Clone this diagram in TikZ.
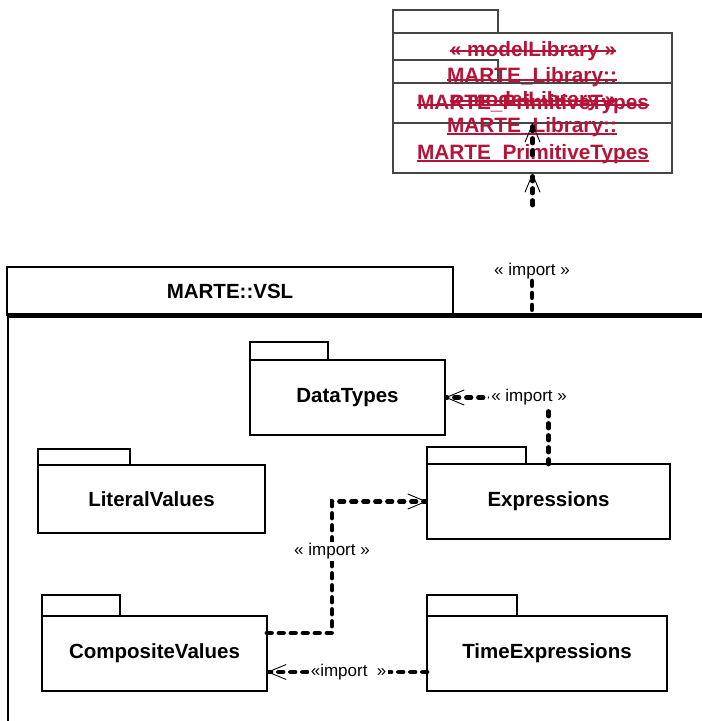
\documentclass[tikz,border=0pt]{standalone}
\usepackage{fontspec}
\setmainfont{Liberation Sans}
\usetikzlibrary{arrows.meta}
\definecolor{cLib} {RGB}{180, 20, 55}
\definecolor{cLine}{RGB}{70, 70, 70}
\tikzset{
  pkgBody/.style = {draw, line width=1.6pt, inner sep=0pt, outer sep=0pt,
                    font=\fontsize{20.5}{24}\selectfont\bfseries},
  pkgTab/.style  = {draw, line width=1.6pt, inner sep=0pt, outer sep=0pt,
                    anchor=south west},
  libBody/.style = {draw=cLine, line width=1.1pt, inner sep=0pt, outer sep=0pt,
                    minimum width=279pt, minimum height=90pt},
  libTab/.style  = {draw=cLine, line width=1.1pt, inner sep=0pt, outer sep=0pt,
                    anchor=south west, minimum width=105pt, minimum height=23pt},
  libTxt/.style  = {inner sep=0pt, text=cLib, font=\fontsize{20.8}{24}\selectfont\bfseries},
  libRule/.style = {cLib, line width=1.8pt},
  lbl/.style     = {fill=white, inner sep=2pt, font=\fontsize{17}{20}\selectfont},
  dep/.style     = {line width=4.8pt, dash pattern=on 4.5pt off 7.5pt, line cap=round},
  imp/.style     = {dep, -{Straight Barb[length=18pt, width=15pt, line width=0.9pt]}},
}

\begin{document}
\begin{tikzpicture}[x=1pt, y=-1pt]
\clip (0,0) rectangle (702,721);

%% ─── library package (drawn twice) ──────────────────────────
\node[libBody] (PTA) at (532.5,78) {};
\node[libTab]  (PTAtab) at (PTA.north west) {};
\node[libBody] (PTB) at (532.5,128) {};
\node[libTab]  (PTBtab) at (PTB.north west) {};

\node[libTxt] (stA)  at (533,51)  {« modelLibrary »};
\node[libTxt] (nmA1) at (532,77)  {MARTE\_Library::};
\node[libTxt] (nmA2) at (533,104) {MARTE\_PrimitiveTypes};
\draw[libRule] (stA.west) -- (stA.east);
\draw[libRule] ([yshift=2pt]nmA1.base west) -- ([yshift=2pt]nmA1.base east);
\draw[libRule] ([yshift=4pt]nmA2.base west) -- ([yshift=4pt]nmA2.base east);

\node[libTxt] (stB)  at (533,101) {« modelLibrary »};
\node[libTxt] (nmB1) at (532,127) {MARTE\_Library::};
\node[libTxt] (nmB2) at (533,154) {MARTE\_PrimitiveTypes};
\draw[libRule] (stB.west) -- (stB.east);
\draw[libRule] ([yshift=-1.5pt]nmB1.base west) -- ([yshift=-1.5pt]nmB1.base east);
\draw[libRule] ([yshift=-1.5pt]nmB2.base west) -- ([yshift=-1.5pt]nmB2.base east);

%% ─── MARTE::VSL frame ───────────────────────────────────────
\node[pkgBody, minimum width=446pt, minimum height=48pt] (VSLname) at (230,291) {MARTE::VSL};
\node[draw, line width=1.6pt, inner sep=0pt, minimum width=760pt, minimum height=460pt,
      anchor=north west] (VSL) at (VSLname.south west) {};
\draw[line width=5pt] (VSL.north west) -- (VSL.north east);

%% import of the library
\node[lbl] (impLbl) at (532,271) {« import »};
\coordinate (impGapA) at (532.5,155);
\coordinate (impGapB) at (532.5,205);
\draw[dep] (impLbl.south) -- (impLbl.south |- VSL.north);
\draw[imp] (impGapB) -- (PTB.south);
\draw[imp] (impGapA) -- (PTA.south);

%% ─── inner packages ─────────────────────────────────────────
\node[pkgBody, minimum width=195pt, minimum height=75pt] (DT) at (347.5,397.5) {DataTypes};
\node[pkgTab, minimum width=78pt, minimum height=18pt] (DTtab) at (DT.north west) {};

\node[pkgBody, minimum width=227pt, minimum height=68pt] (LV) at (151.5,499) {LiteralValues};
\node[pkgTab, minimum width=92pt, minimum height=16pt] (LVtab) at (LV.north west) {};

\node[pkgBody, minimum width=243pt, minimum height=75pt] (EX) at (548.5,501.5) {Expressions};
\node[pkgTab, minimum width=99pt, minimum height=17pt] (EXtab) at (EX.north west) {};

\node[pkgBody, minimum width=225pt, minimum height=75pt] (CV) at (154.5,653.5) {CompositeValues};
\node[pkgTab, minimum width=78pt, minimum height=21pt] (CVtab) at (CV.north west) {};

\node[pkgBody, minimum width=240pt, minimum height=75pt] (TE) at (547,653.5) {TimeExpressions};
\node[pkgTab, minimum width=90pt, minimum height=21pt] (TEtab) at (TE.north west) {};

%% ─── imports ────────────────────────────────────────────────
\draw[imp] (EX.north) |- node[lbl, pos=0.594] {« import »} (DT.east);
\draw[imp] ([yshift=20.5pt]CV.east) -- ++(65,0)
  |- node[lbl, pos=0.31] {« import »} (EX.west);
\draw[imp] ([yshift=-18.5pt]TE.west)
  -- node[lbl, pos=0.49] {«import\ \ »} ([yshift=-18.5pt]CV.east);

\end{tikzpicture}
\end{document}
